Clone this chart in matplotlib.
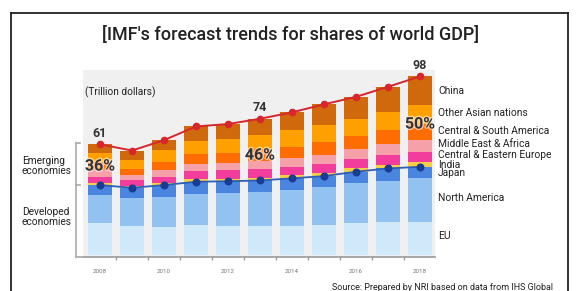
import numpy as np
import matplotlib
matplotlib.use("Agg")
import matplotlib.pyplot as plt
from matplotlib.lines import Line2D
import matplotlib.patheffects as pe

plt.rcParams['font.family'] = ['Roboto', 'DejaVu Sans']

years = [2008, 2009, 2010, 2011, 2012, 2013, 2014, 2015, 2016, 2017, 2018]
year_labels = ["2008", "", "2010", "", "2012", "", "2014", "", "2016", "", "2018"]

# trillion dollars, bottom to top
eu = [17.3, 15.8, 15.5, 16.4, 15.9, 15.9, 15.9, 16.4, 17.3, 18.2, 18.2]
north_america = [15.5, 15.5, 16.4, 17.0, 17.9, 18.6, 19.7, 20.6, 21.9, 22.3, 24.1]
japan = [5.5, 5.5, 6.4, 6.7, 6.6, 6.3, 6.4, 6.2, 6.4, 6.9, 6.0]
india = [0.9, 0.8, 1.2, 1.3, 1.1, 1.6, 1.8, 1.8, 1.8, 1.8, 2.5]
central_eastern_europe = [3.6, 3.6, 3.3, 4.7, 5.1, 4.8, 4.6, 4.7, 4.9, 5.5, 5.8]
middle_east_africa = [3.8, 2.4, 3.6, 3.6, 3.6, 4.3, 4.6, 4.9, 5.5, 6.0, 6.6]
central_south_america = [4.2, 3.6, 4.6, 5.8, 5.8, 6.3, 6.4, 7.3, 7.3, 7.7, 8.6]
other_asia = [5.2, 4.9, 6.4, 6.9, 7.3, 7.8, 8.8, 9.1, 9.3, 10.0, 10.4]
china = [4.6, 5.1, 5.5, 8.0, 8.4, 9.0, 9.9, 11.5, 12.2, 13.7, 15.6]

series_names = ["EU", "North America", "Japan", "India", "Central & Eastern Europe",
                "Middle East & Africa", "Central & South America", "Other Asian nations", "China"]
series = [eu, north_america, japan, india, central_eastern_europe,
          middle_east_africa, central_south_america, other_asia, china]
colors = ["#cfe9fb", "#93c2f1", "#4a86df", "#f6cf48", "#f23d9c",
          "#f6a0aa", "#ff6c02", "#ffa000", "#cf690b"]

total_labels = {2008: "61", 2013: "74", 2018: "98"}
share_labels = {2008: ("36%", 48.7), 2013: ("46%", 54.7), 2018: ("50%", 71.7)}

W, H = 578, 291
# pixel rows of the series names on the right (bottom to top)
name_rows = [236, 198, 173.5, 164.5, 155, 144, 131, 113, 91]

fig = plt.figure(figsize=(W / 100, H / 100), dpi=100)

# axes box in pixels: x 83..435, y 70..257
ax = fig.add_axes([83 / W, 1 - 257 / H, (435 - 83) / W, (257 - 70) / H])
ax.set_facecolor("#f0f0f0")

x = np.arange(len(years))
bottom = np.zeros(len(years))
for name, vals, c, row in zip(series_names, series, colors, name_rows):
    vals = np.array(vals)
    ax.bar(x, vals, bottom=bottom, width=0.75, color=c, edgecolor="none", zorder=2)
    fig.text(438 / W, 1 - row / H, name, fontsize=7.4, color="#222",
             va="center", ha="left")
    bottom = bottom + vals

total = bottom
developed = np.array(eu) + np.array(north_america) + np.array(japan)

ax.plot(x, total, color="#d8262c", lw=1.4, marker="o", ms=4.5, zorder=4)
ax.plot(x, developed, color="#2d5fb4", lw=1.3, marker="o", ms=4.8,
        mfc="#1b3c93", mec="#1b3c93", zorder=4)

for yr, lab in total_labels.items():
    i = years.index(yr)
    ax.text(i, total[i] + 6, lab, ha="center", va="center", fontsize=9,
            fontweight="bold", color="#333", clip_on=False, zorder=5)

for yr, (lab, ypos) in share_labels.items():
    i = years.index(yr)
    ax.text(i, ypos, lab, ha="center", va="center", fontsize=11.5,
            fontweight="bold", color="#333", zorder=6,
            path_effects=[pe.withStroke(linewidth=2, foreground="white", alpha=0.6)])

ax.text(0.005, 88.9, "(Trillion dollars)", transform=ax.get_yaxis_transform(),
        fontsize=7.3, color="#222", va="center", ha="left")

ax.set_xlim(-0.531, 10.47)
ax.set_ylim(-1.09, 101.3)
for s in ["top", "right", "left"]:
    ax.spines[s].set_visible(False)
ax.spines["bottom"].set_color("#999")
ax.spines["bottom"].set_linewidth(1.2)
ax.set_yticks([])
ax.set_xticks(x[:-1] + 0.5)
ax.tick_params(axis="x", length=2, width=1, color="#999", direction="out", labelbottom=False)
for i, lab in enumerate(year_labels):
    if lab:
        ax.text(i, -9, lab, ha="center", va="center", fontsize=4.5, color="#777",
                clip_on=False)

# bracket on the left and bottom line extension
def px(xp, yp):
    return xp / W, 1 - yp / H

for (x0, y0), (x1, y1) in [((76, 143), (76, 257)), ((76, 143), (80, 143)),
                           ((76, 185), (80, 185)), ((76, 257), (83, 257))]:
    a, b = px(x0, y0)
    c, d = px(x1, y1)
    fig.add_artist(Line2D([a, c], [b, d], color="#aaa", lw=1.2))

fig.text(22 / W, 1 - 166 / H, "Emerging\neconomies", fontsize=7.3, color="#222",
         va="center", ha="left", linespacing=1.0)
fig.text(22 / W, 1 - 217 / H, "Developed\neconomies", fontsize=7.3, color="#222",
         va="center", ha="left", linespacing=1.0)

# frame
for (x0, y0), (x1, y1) in [((11, 13), (568, 13)), ((11, 13), (11, 291)),
                           ((568, 13), (568, 291))]:
    a, b = px(x0, y0)
    c, d = px(x1, y1)
    fig.add_artist(Line2D([a, c], [b, d], color="#222", lw=1.3))

fig.text(291 / W, 1 - 35 / H, "[IMF's forecast trends for shares of world GDP]",
         ha="center", va="center", fontsize=13, fontweight="medium", color="#222")

fig.text(553 / W, 1 - 287 / H, "Source: Prepared by NRI based on data from IHS Global",
         ha="right", va="center", fontsize=6.5, color="#222")

fig.savefig("out.png", dpi=100, facecolor="white")
